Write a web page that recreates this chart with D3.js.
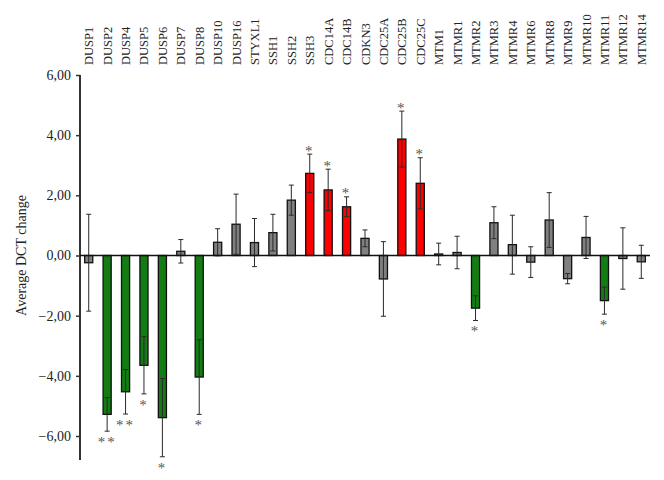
<!DOCTYPE html>
<html>
<head>
<meta charset="utf-8">
<script src="https://cdn.jsdelivr.net/npm/d3@7"></script>
<style>
  html, body { margin: 0; padding: 0; background: #fff; }
  svg { display: block; font-family: "Liberation Serif", "DejaVu Serif", serif; }
  text { -webkit-font-smoothing: antialiased; }
</style>
</head>
<body>
<svg id="chart" width="664" height="480"></svg>
<script>
const genes = ["DUSP1","DUSP2","DUSP4","DUSP5","DUSP6","DUSP7","DUSP8","DUSP10","DUSP16","STYXL1","SSH1","SSH2","SSH3","CDC14A","CDC14B","CDKN3","CDC25A","CDC25B","CDC25C","MTM1","MTMR1","MTMR2","MTMR3","MTMR4","MTMR6","MTMR8","MTMR9","MTMR10","MTMR11","MTMR12","MTMR14"];
const meanChange = [-0.24,-5.28,-4.53,-3.65,-5.39,0.14,-4.04,0.44,1.04,0.43,0.76,1.84,2.73,2.18,1.62,0.57,-0.78,3.87,2.40,0.05,0.10,-1.75,1.09,0.36,-0.22,1.18,-0.77,0.60,-1.50,-0.10,-0.21];
const errorSize = [1.61,0.56,0.74,0.95,1.30,0.39,1.24,0.45,1.00,0.80,0.61,0.50,0.64,0.69,0.33,0.28,1.24,0.93,0.85,0.36,0.54,0.41,0.53,0.98,0.51,0.91,0.17,0.70,0.45,1.02,0.55];
const significance = ["","**","**","*","*","","*","","","","","","*","*","*","","","*","*","","","*","","","","","","","*","",""];
const yTicks = [-6,-4,-2,0,2,4,6];
const yLabel = "Average DCT change";

const svg = d3.select("#chart");
const x = d3.scaleBand().domain(genes).range([79.5, 650.5]).paddingInner(0.56).paddingOuter(0.28);
const y = d3.scaleLinear().domain([-6, 6]).range([436, 75]);

const colorFor = i => significance[i] ? (meanChange[i] < 0 ? "#137d13" : "#ff0000") : "#808080";

// y axis
const fmt = v => (v < 0 ? "\u2212" : "") + Math.abs(v).toFixed(2).replace(".", ",");
const yAxis = svg.append("g").attr("transform", "translate(80,0)")
  .call(d3.axisLeft(y).tickValues(yTicks).tickSize(4).tickPadding(5).tickFormat(fmt));
yAxis.select(".domain").remove();
yAxis.selectAll(".tick line").attr("stroke", "#333").attr("stroke-width", 1.5);
yAxis.selectAll(".tick text").attr("font-size", 14).attr("fill", "#222")
  .attr("font-family", "Liberation Serif, serif");
svg.append("line")
  .attr("x1", 80).attr("x2", 80).attr("y1", y(6)).attr("y2", y(-6.8))
  .attr("stroke", "#333").attr("stroke-width", 2);

// y label
svg.append("text")
  .attr("transform", `translate(26,${y(0)}) rotate(-90)`)
  .attr("text-anchor", "middle").attr("font-size", 14).attr("fill", "#222")
  .text(yLabel);

// bars
svg.append("g").selectAll("rect").data(genes).join("rect")
  .attr("x", d => x(d))
  .attr("width", x.bandwidth())
  .attr("y", (d, i) => y(Math.max(0, meanChange[i])))
  .attr("height", (d, i) => Math.abs(y(meanChange[i]) - y(0)))
  .attr("fill", (d, i) => colorFor(i))
  .attr("stroke", "#111").attr("stroke-width", 1.3);

// error bars
const eb = svg.append("g").attr("stroke", "#2a2a2a").attr("stroke-width", 1);
genes.forEach((g, i) => {
  const cx = x(g) + x.bandwidth() / 2;
  const lo = meanChange[i] - errorSize[i], hi = meanChange[i] + errorSize[i];
  eb.append("line").attr("x1", cx).attr("x2", cx).attr("y1", y(hi)).attr("y2", y(lo));
  eb.append("line").attr("x1", cx - 2.5).attr("x2", cx + 2.5).attr("y1", y(hi)).attr("y2", y(hi));
  eb.append("line").attr("x1", cx - 2.5).attr("x2", cx + 2.5).attr("y1", y(lo)).attr("y2", y(lo));
});

// zero line
svg.append("line")
  .attr("x1", 80).attr("x2", 650).attr("y1", y(0)).attr("y2", y(0))
  .attr("stroke", "#111").attr("stroke-width", 1.5);

// significance marks
svg.append("g").attr("opacity", 0.99).selectAll("text").data(genes).join("text")
  .attr("x", d => x(d) + x.bandwidth() / 2)
  .attr("y", (d, i) => {
    const neg = meanChange[i] < 0;
    const end = neg ? meanChange[i] - errorSize[i] : meanChange[i] + errorSize[i];
    return neg ? y(end) + 16 : y(end) + 1.5;
  })
  .attr("text-anchor", "middle").attr("font-size", 15).attr("fill", "#555")
  .attr("letter-spacing", 2)
  .text((d, i) => significance[i]);

// category labels on top
svg.append("g").selectAll("text").data(genes).join("text")
  .attr("transform", d => `translate(${x(d) + x.bandwidth() / 2 + 4.5},65) rotate(-90)`)
  .attr("font-size", 12.5).attr("fill", "#222")
  .text(d => d);
</script>
</body>
</html>
